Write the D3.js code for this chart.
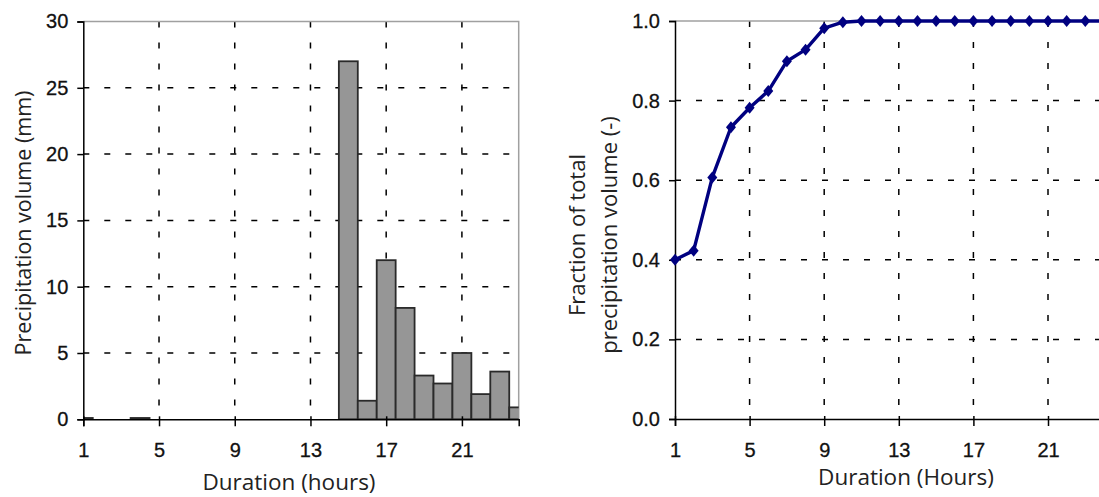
<!DOCTYPE html>
<html>
<head>
<meta charset="utf-8">
<script src="https://cdn.jsdelivr.net/npm/d3@7"></script>
<style>
  body { margin: 0; background: #fff; }
  .axis text { font-family: "Liberation Sans", Arial, sans-serif; font-size: 20px; fill: #111; stroke: #111; stroke-width: 0.3; }
  .axis path, .axis line { stroke: #000; stroke-width: 1.5; }
  .title { font-family: "Open Sans", sans-serif; fill: #222; }
  .grid line { stroke: #000; stroke-width: 1.5; stroke-dasharray: 6, 15; }
  .frame { stroke: #a0a0a0; stroke-width: 1.5; fill: none; }
</style>
</head>
<body>
<svg id="chart" width="1099" height="497"></svg>
<script>
// hourly precipitation (left panel)
const precipHours = [1, 2, 3, 4, 5, 6, 7, 8, 9, 10, 11, 12, 13, 14, 15, 16, 17, 18, 19, 20, 21, 22, 23, 24];
const precipValues = [0.1, 0, 0, 0.1, 0, 0, 0, 0, 0, 0, 0, 0, 0, 0, 27.0, 1.4, 12.0, 8.4, 3.3, 2.7, 5.0, 1.9, 3.6, 0.9];
const precipTicks = [0, 5, 10, 15, 20, 25, 30];

// fraction of total volume by duration (right panel)
const durations = [1, 2, 3, 4, 5, 6, 7, 8, 9, 10, 11, 12, 13, 14, 15, 16, 17, 18, 19, 20, 21, 22, 23, 24];
const fractionValues = [0.40, 0.423, 0.607, 0.733, 0.782, 0.824, 0.899, 0.928, 0.982, 0.997, 1.0, 1.0, 1.0, 1.0, 1.0, 1.0, 1.0, 1.0, 1.0, 1.0, 1.0, 1.0, 1.0, 1.0];
const fractionTicks = [0, 0.2, 0.4, 0.6, 0.8, 1.0];

const hourTicks = [1, 5, 9, 13, 17, 21];

const svg = d3.select('#chart');

function diamond(w, h) {
  const p = d3.path();
  p.moveTo(0, -h / 2);
  p.lineTo(w / 2, 0);
  p.lineTo(0, h / 2);
  p.lineTo(-w / 2, 0);
  p.closePath();
  return p.toString();
}

// shared axis drawing: ticks outside on y, crossing on x
function drawAxes(g, xScale, yScale, yTicks, yFormat, bottomY, leftX) {
  const xAxis = d3.axisBottom(xScale).tickValues(hourTicks).tickSizeOuter(0).tickSize(7);
  const yAxis = d3.axisLeft(yScale).tickValues(yTicks)
    .tickFormat(yFormat).tickSizeOuter(0).tickSize(6).tickPadding(9);

  const xg = g.append('g')
      .attr('class', 'axis x-axis')
      .attr('transform', `translate(0,${bottomY})`)
      .call(xAxis);
  xg.selectAll('.tick line').attr('y1', -3);
  xg.selectAll('.tick text').attr('y', 38).attr('dy', null);

  g.append('g')
      .attr('class', 'axis y-axis')
      .attr('transform', `translate(${leftX},0)`)
      .call(yAxis);
}

// ---------------- left panel: histogram ----------------
{
  const left = 83.3, right = 518.7, top = 21.5, bottom = 419.3;
  const x = d3.scaleLinear().domain([1, 24]).range([left, right]);
  const y = d3.scaleLinear().domain([0, 30]).range([bottom, top]);

  const g = svg.append('g');

  svg.append('clipPath').attr('id', 'clipLeft')
    .append('rect').attr('x', left).attr('y', 0).attr('width', right - left).attr('height', bottom);

  // grid
  const grid = g.append('g').attr('class', 'grid');
  grid.selectAll('.h').data(precipTicks.filter(d => d > 0 && d < 30)).join('line')
      .attr('x1', left).attr('x2', right).attr('y1', d => y(d)).attr('y2', d => y(d));
  grid.selectAll('.v').data(hourTicks.filter(d => d > 1)).join('line')
      .attr('x1', d => x(d)).attr('x2', d => x(d)).attr('y1', top).attr('y2', bottom);

  // plot frame (top + right)
  g.append('path').attr('class', 'frame')
      .attr('d', `M${left},${top}H${right}V${bottom}`);

  const bars = precipHours.map((h, i) => ({ h, v: precipValues[i] })).filter(d => d.v > 0);
  g.append('g').attr('clip-path', 'url(#clipLeft)')
    .selectAll('rect').data(bars).join('rect')
      .attr('x', d => x(d.h - 0.5))
      .attr('width', d => x(d.h + 0.5) - x(d.h - 0.5))
      .attr('y', d => y(d.v))
      .attr('height', d => y(0) - y(d.v))
      .attr('fill', '#969696')
      .attr('stroke', '#2a2a2a')
      .attr('stroke-width', 1.8);

  drawAxes(g, x, y, precipTicks, d3.format('d'), bottom, left);

  g.append('text').attr('class', 'title')
      .attr('transform', 'translate(31,223) rotate(-90)')
      .attr('text-anchor', 'middle')
      .style('font-size', '21.5px')
      .text('Precipitation volume (mm)');
  g.append('text').attr('class', 'title')
      .attr('x', 289).attr('y', 490)
      .attr('text-anchor', 'middle')
      .style('font-size', '22.5px')
      .text('Duration (hours)');
}

// ---------------- right panel: cumulative fraction ----------------
{
  const left = 675, top = 21, bottom = 419;
  const hourWidth = 18.65;
  const x = d3.scaleLinear().domain([1, 25]).range([left, left + 24 * hourWidth]);
  const y = d3.scaleLinear().domain([0, 1]).range([bottom, top]);
  const right = x(25);

  const g = svg.append('g');

  const grid = g.append('g').attr('class', 'grid');
  grid.selectAll('.h').data(fractionTicks.filter(d => d > 0 && d < 1)).join('line')
      .attr('x1', left).attr('x2', right).attr('y1', d => y(d)).attr('y2', d => y(d));
  grid.selectAll('.v').data(hourTicks.filter(d => d > 1)).join('line')
      .attr('x1', d => x(d)).attr('x2', d => x(d)).attr('y1', top).attr('y2', bottom);

  g.append('path').attr('class', 'frame')
      .attr('d', `M${left},${top}H${right}`);

  drawAxes(g, x, y, fractionTicks, d3.format('.1f'), bottom, left);

  const pts = durations.map((d, i) => ({ d, v: fractionValues[i] }));
  const line = d3.line().x(p => x(p.d)).y(p => y(p.v));

  g.append('path')
      .datum(pts)
      .attr('d', line)
      .attr('fill', 'none')
      .attr('stroke', '#000080')
      .attr('stroke-width', 3.4)
      .attr('stroke-linejoin', 'round');

  g.selectAll('.marker').data(pts).join('path')
      .attr('class', 'marker')
      .attr('transform', p => `translate(${x(p.d)},${y(p.v)})`)
      .attr('d', diamond(10, 12))
      .attr('fill', '#000080');

  const yTitle = g.append('text').attr('class', 'title')
      .attr('transform', 'translate(0,235) rotate(-90)')
      .attr('text-anchor', 'middle')
      .style('font-size', '22px');
  yTitle.append('tspan').attr('x', 0).attr('y', 585).text('Fraction of total');
  yTitle.append('tspan').attr('x', 0).attr('y', 617).text('precipitation volume (-)');

  g.append('text').attr('class', 'title')
      .attr('x', 906).attr('y', 485)
      .attr('text-anchor', 'middle')
      .style('font-size', '22.5px')
      .text('Duration (Hours)');
}
</script>
</body>
</html>
